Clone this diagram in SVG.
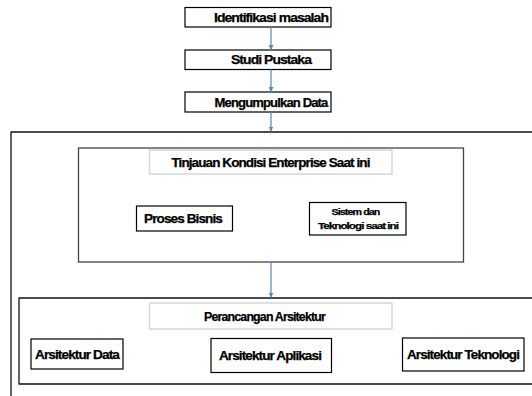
<svg xmlns="http://www.w3.org/2000/svg" width="532" height="396" viewBox="0 0 532 396">
<defs>
<style>
.box{fill:#fff;stroke:#000;stroke-width:1.2}
.frame{fill:none;stroke:#111;stroke-width:1.3}
.inner{fill:none;stroke:#444;stroke-width:1.3}
.ttl{fill:#fff;stroke:#d6d6d6;stroke-width:1.5}
.t{font-family:"Liberation Sans",Arial,sans-serif;font-weight:bold;font-size:12px;fill:#000;stroke:#000;stroke-width:0.25;text-anchor:middle;letter-spacing:-0.8px}
.s{font-size:9.5px}
.con{stroke:#5a87b5;stroke-width:1.2;fill:none;marker-end:url(#ah)}
</style>
<marker id="ah" viewBox="0 0 10 10" refX="10" refY="5" markerWidth="5" markerHeight="5" markerUnits="userSpaceOnUse" orient="auto">
<path d="M0,0 L10,5 L0,10 z" fill="#5a87b5"/>
</marker>
</defs>
<rect width="532" height="396" fill="#fff"/>

<g id="frame-outer"><path class="frame" d="M11,397 V132 H533"/></g>
<g id="frame-lower"><path class="frame" d="M533,298 H19 V384 H533"/></g>

<g id="n1"><rect class="box" x="185" y="7.5" width="146" height="19.5"/><text class="t" x="271" y="21.5" textLength="114" lengthAdjust="spacingAndGlyphs">Identifikasi masalah</text></g>
<g id="n2"><rect class="box" x="185" y="50" width="146" height="19.5"/><text class="t" x="271" y="64" textLength="80" lengthAdjust="spacingAndGlyphs">Studi Pustaka</text></g>
<g id="n3"><rect class="box" x="185" y="92" width="146" height="20"/><text class="t" x="271" y="106.5" textLength="113" lengthAdjust="spacingAndGlyphs">Mengumpulkan Data</text></g>

<g id="n4"><rect class="inner" x="78.5" y="148" width="385" height="114"/></g>
<g id="n4-title"><rect class="ttl" x="149.5" y="150" width="242.5" height="24"/><text class="t" x="270.5" y="166.5" textLength="198" lengthAdjust="spacingAndGlyphs">Tinjauan Kondisi Enterprise Saat ini</text></g>
<g id="n5"><rect class="box" x="136.5" y="206" width="96" height="25"/><text class="t" x="183" y="223" textLength="78" lengthAdjust="spacingAndGlyphs">Proses Bisnis</text></g>
<g id="n6"><rect class="box" x="309.5" y="202.5" width="96.5" height="32.5"/><text class="t s" x="355.5" y="215" textLength="48" lengthAdjust="spacingAndGlyphs">Sistem dan</text><text class="t s" x="358" y="228.5" textLength="80" lengthAdjust="spacingAndGlyphs">Teknologi saat ini</text></g>

<g id="n7-title"><rect class="ttl" x="149.5" y="303" width="242.5" height="26"/><text class="t" x="264.5" y="321" textLength="121" lengthAdjust="spacingAndGlyphs">Perancangan Arsitektur</text></g>
<g id="n8"><rect class="box" x="31" y="339" width="92" height="30"/><text class="t" x="77" y="358.5" textLength="84" lengthAdjust="spacingAndGlyphs">Arsitektur Data</text></g>
<g id="n9"><rect class="box" x="211" y="338.5" width="120.5" height="34"/><text class="t" x="270" y="360" textLength="102" lengthAdjust="spacingAndGlyphs">Arsitektur Aplikasi</text></g>
<g id="n10"><rect class="box" x="402.5" y="338" width="121.5" height="33"/><text class="t" x="463" y="359" textLength="112" lengthAdjust="spacingAndGlyphs">Arsitektur Teknologi</text></g>

<g id="connectors">
<line class="con" x1="271" y1="27" x2="271" y2="50"/>
<line class="con" x1="271" y1="69.5" x2="271" y2="92"/>
<line class="con" x1="271" y1="112" x2="271" y2="131.5"/>
<line class="con" x1="271" y1="262" x2="271" y2="297.5"/>
</g>
</svg>
